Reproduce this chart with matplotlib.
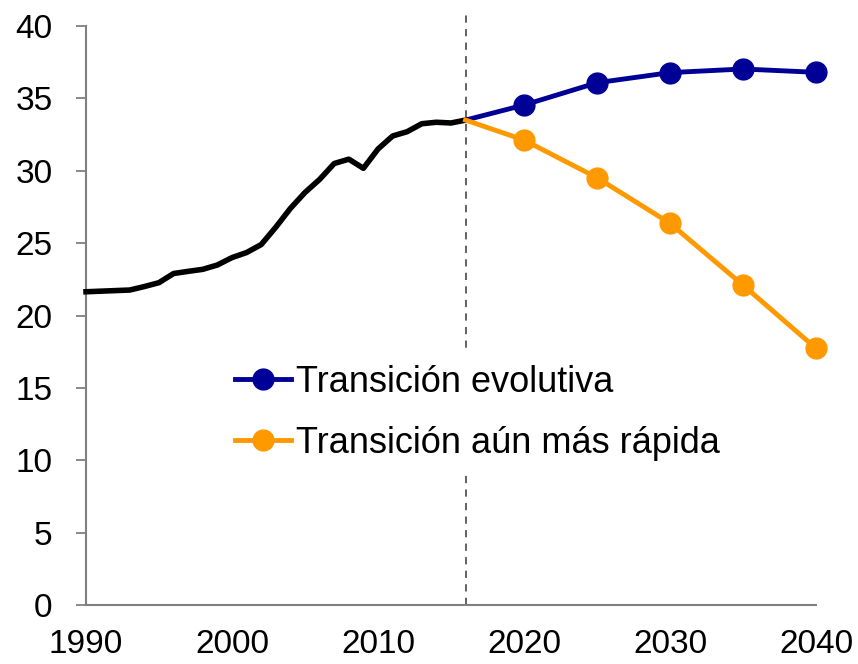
import matplotlib
matplotlib.use("Agg")
import matplotlib.pyplot as plt

hist_years = list(range(1990, 2017))
hist_values = [21.64, 21.68, 21.72, 21.76, 22.0, 22.27, 22.9, 23.05, 23.19, 23.49,
               24.0, 24.35, 24.9, 26.1, 27.4, 28.5, 29.4, 30.5, 30.8, 30.17,
               31.5, 32.4, 32.7, 33.25, 33.35, 33.3, 33.5]

proj_years = [2016, 2020, 2025, 2030, 2035, 2040]
evolutiva = [33.5, 34.54, 36.08, 36.78, 37.03, 36.8]
rapida = [33.5, 32.12, 29.52, 26.37, 22.1, 17.73]

labels = ["Transición evolutiva", "Transición aún más rápida"]
x_ticks = [1990, 2000, 2010, 2020, 2030, 2040]
y_ticks = [0, 5, 10, 15, 20, 25, 30, 35, 40]
split_year = 2016

plt.rcParams['font.family'] = ['Liberation Sans', 'DejaVu Sans']

fig = plt.figure(figsize=(8.58, 6.64), dpi=100)
W, H = 858, 664
ax = fig.add_axes([86 / W, 1 - 605 / H, (816 - 86) / W, (605 - 26) / H])

blue = "#000096"
orange = "#FF9900"

ax.plot([split_year, split_year], [0, 41], color="#555555", lw=1.3,
        linestyle=(0, (4, 3.5)), clip_on=False, zorder=1)
ax.plot(hist_years, hist_values, color="black", lw=4.0, zorder=3,
        solid_joinstyle="round", clip_on=False)
ax.plot(proj_years, evolutiva, color=blue, lw=3.5, zorder=4, clip_on=False)
ax.plot(proj_years[1:], evolutiva[1:], color=blue, lw=0, marker="o",
        markersize=15, zorder=4, clip_on=False)
ax.plot(proj_years, rapida, color=orange, lw=3.5, zorder=5, clip_on=False)
ax.plot(proj_years[1:], rapida[1:], color=orange, lw=0, marker="o",
        markersize=15, zorder=5, clip_on=False)

h1, = ax.plot([], [], color=blue, lw=3.5, marker="o", markersize=15)
h2, = ax.plot([], [], color=orange, lw=3.5, marker="o", markersize=15)
leg = ax.legend([h1, h2], labels, loc="upper left",
                bbox_to_anchor=((222 - 86) / 730, (605 - 352) / 579),
                frameon=True, facecolor="white", edgecolor="none", framealpha=1,
                fontsize=26, handlelength=1.55, handletextpad=0.15,
                labelspacing=0.72, borderpad=0.35, borderaxespad=0)
leg.set_zorder(6)
for t in leg.get_texts():
    t.set_color("black")

ax.set_xlim(1990, 2040)
ax.set_ylim(0, 40)
ax.set_xticks(x_ticks)
ax.set_xticklabels([str(v) for v in x_ticks])
ax.set_yticks(y_ticks)
ax.set_yticklabels([str(v) for v in y_ticks])
ax.tick_params(axis="x", length=0, pad=17, labelsize=24, colors="black")
ax.tick_params(axis="y", length=7, width=1.3, color="#808080", direction="out",
               pad=17, labelsize=24, labelcolor="black")

for s in ["top", "right"]:
    ax.spines[s].set_visible(False)
for s in ["left", "bottom"]:
    ax.spines[s].set_color("#808080")
    ax.spines[s].set_linewidth(1.5)

fig.savefig("out.png", dpi=100)
